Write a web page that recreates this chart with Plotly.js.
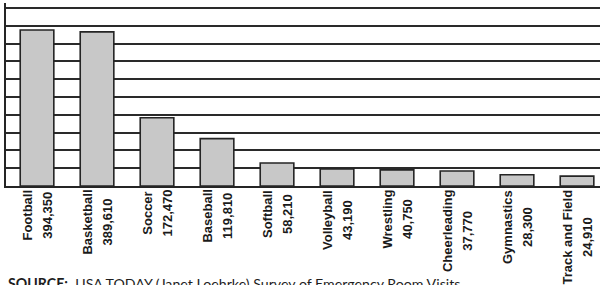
<!DOCTYPE html>
<html>
<head>
<meta charset="utf-8">
<script src="https://cdn.plot.ly/plotly-3.0.1.min.js"></script>
<style>html,body{margin:0;padding:0;background:#fff;}#chart{width:600px;height:285px;}</style>
</head>
<body>
<div id="chart"></div>
<script>
const categories = ["Football","Basketball","Soccer","Baseball","Softball","Volleyball","Wrestling","Cheerleading","Gymnastics","Track and Field"];
const visits = [394350, 389610, 172470, 119810, 58210, 43190, 40750, 37770, 28300, 24910];
const sourceText = "<b>SOURCE:</b>  USA TODAY (Janet Loehrke) Survey of Emergency Room Visits";

// base size sets the line spacing; inner span sets glyph size (narrow look)
const labelFont = {family: "'Liberation Sans Narrow', 'Arial Narrow', 'Liberation Sans', Arial, sans-serif", size: 15.5, color: "#1a1a1a"};

const annotations = categories.map((c, i) => ({
  x: c, xref: "x", y: 0, yref: "paper",
  text: "<span style='font-size:13px'><b>" + c + "<br>" + visits[i].toLocaleString("en-US") + "</b></span>",
  textangle: -90, showarrow: false, align: "center",
  xanchor: "center", yanchor: "top", yshift: -2,
  font: labelFont
}));
annotations.push({
  x: 0, xref: "paper", xanchor: "left", xshift: 0,
  y: 0, yref: "paper", yanchor: "top", yshift: -87,
  text: sourceText, showarrow: false, align: "left",
  font: {family: "Lato, 'Open Sans', sans-serif", size: 14.2, color: "#1e1e1e"}
});

const trace = {
  type: "bar", x: categories, y: visits,
  marker: {color: "#c8c8c8", line: {color: "#252525", width: 1.6}},
  width: 0.56, hoverinfo: "none"
};

const layout = {
  width: 600, height: 285,
  margin: {l: 6, r: 0, t: 3, b: 99},
  paper_bgcolor: "#fff", plot_bgcolor: "#fff",
  showlegend: false,
  xaxis: {type: "category", range: [-0.517, 9.383], showticklabels: false, ticks: "",
          showgrid: false, zeroline: false, showline: true, linecolor: "#252525", linewidth: 2},
  yaxis: {range: [0, 462640], tick0: 0, dtick: 45000, showticklabels: false, ticks: "",
          showgrid: true, gridcolor: "#2a2a2a", gridwidth: 2, zeroline: false,
          showline: true, linecolor: "#252525", linewidth: 2},
  annotations: annotations
};

Plotly.newPlot("chart", [trace], layout, {staticPlot: true, displayModeBar: false});
</script>
</body>
</html>
